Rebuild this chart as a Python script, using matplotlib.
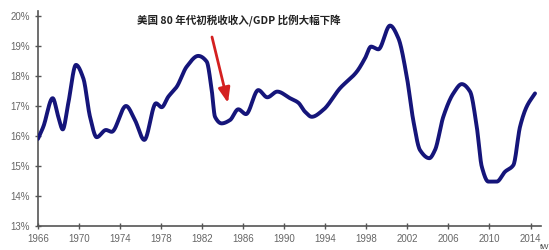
import numpy as np
import matplotlib
matplotlib.use("Agg")
import matplotlib.pyplot as plt

# Key points (year position, tax revenue / GDP in %)
years = [1965.9, 1966.52, 1967.43, 1967.98, 1968.41, 1968.95, 1969.7, 1970.42,
         1971.07, 1971.72, 1972.63, 1973.18, 1974.58, 1975.45, 1976.36, 1977.5,
         1978.05, 1978.7, 1979.52, 1980.49, 1981.62, 1982.44, 1982.93, 1983.25,
         1983.9, 1984.71, 1985.52, 1986.27, 1987.47, 1988.35, 1989.32, 1990.56,
         1991.37, 1992.02, 1992.68, 1993.8, 1995.43, 1997.06, 1997.87, 1998.46,
         1999.17, 2000.31, 2001.12, 2001.94, 2002.58, 2003.23, 2004.14, 2004.69,
         2005.5, 2006.48, 2007.3, 2008.11, 2008.76, 2009.25, 2009.89, 2010.71,
         2011.52, 2012.33, 2012.98, 2013.63, 2014.44]
values = [15.82, 16.3, 17.25, 16.63, 16.21, 17.08, 18.36, 17.91,
          16.63, 15.95, 16.19, 16.13, 16.99, 16.52, 15.86, 17.08,
          16.95, 17.3, 17.63, 18.3, 18.66, 18.47, 17.52, 16.63,
          16.41, 16.52, 16.88, 16.72, 17.52, 17.28, 17.47, 17.25,
          17.1, 16.8, 16.63, 16.86, 17.58, 18.13, 18.58, 18.97,
          18.88, 19.67, 19.25, 17.97, 16.5, 15.52, 15.25, 15.52,
          16.63, 17.41, 17.72, 17.47, 16.3, 14.97, 14.47, 14.47,
          14.8, 15.02, 16.3, 16.97, 17.41]

xtick_years = list(range(1966, 2015, 4))
ytick_vals = [13, 14, 15, 16, 17, 18, 19, 20]
annotation = "美国 80 年代初税收收入/GDP 比例大幅下降"


def pchip(x, y, xn):
    x = np.asarray(x, float); y = np.asarray(y, float)
    h = np.diff(x); d = np.diff(y) / h
    m = np.zeros_like(y)
    for k in range(1, len(x) - 1):
        if d[k - 1] * d[k] > 0:
            w1 = 2 * h[k] + h[k - 1]; w2 = h[k] + 2 * h[k - 1]
            m[k] = (w1 + w2) / (w1 / d[k - 1] + w2 / d[k])
    m[0] = d[0]; m[-1] = d[-1]
    idx = np.clip(np.searchsorted(x, xn) - 1, 0, len(x) - 2)
    t = (xn - x[idx]) / h[idx]
    h00 = 2 * t**3 - 3 * t**2 + 1; h10 = t**3 - 2 * t**2 + t
    h01 = -2 * t**3 + 3 * t**2; h11 = t**3 - t**2
    return h00 * y[idx] + h10 * h[idx] * m[idx] + h01 * y[idx + 1] + h11 * h[idx] * m[idx + 1]


xs = np.linspace(years[0], years[-1], 2000)
ys = pchip(years, values, xs)

fig = plt.figure(figsize=(5.49, 2.5), dpi=100)
ax = fig.add_axes([0.0692, 0.0972, 0.9158, 0.858])
ax.plot(xs, ys, color="#15157a", lw=2.8, solid_capstyle="round",
        solid_joinstyle="round", zorder=3)

ax.set_xlim(1966, 2015)
ax.set_ylim(13, 20.15)
ax.set_xticks(xtick_years)
ax.set_xticklabels([str(v) for v in xtick_years])
ax.set_yticks(ytick_vals)
ax.set_yticklabels([f"{v}%" for v in ytick_vals])

for s in ["top", "right"]:
    ax.spines[s].set_visible(False)
for s in ["left", "bottom"]:
    ax.spines[s].set_color("#555555")
    ax.spines[s].set_linewidth(1.2)

ax.tick_params(axis="both", colors="#555555", labelcolor="#666666",
               labelsize=7, direction="inout", length=4, width=1)
ax.tick_params(axis="x", pad=4)
ax.tick_params(axis="y", pad=4)
for lab in ax.get_xticklabels() + ax.get_yticklabels():
    lab.set_family(["Liberation Sans", "DejaVu Sans"])

fig.text(137 / 549, 1 - 20.5 / 250, annotation, fontsize=7.6, fontweight="bold",
         family=["Noto Sans CJK SC", "DejaVu Sans"], color="#222222",
         ha="left", va="center")

ax.annotate("", xy=(228, 250 - 103), xycoords="figure pixels",
            xytext=(212, 250 - 37), textcoords="figure pixels",
            arrowprops=dict(arrowstyle="-|>,head_length=0.9,head_width=0.35",
                            color="#d42020", lw=2.0, shrinkA=0, shrinkB=0))

fig.text(540 / 549, 1 - 244 / 250, "tW", fontsize=5.5, color="#444444",
         ha="left", va="top", family=["Liberation Sans"])

fig.savefig("out.png", dpi=100)
